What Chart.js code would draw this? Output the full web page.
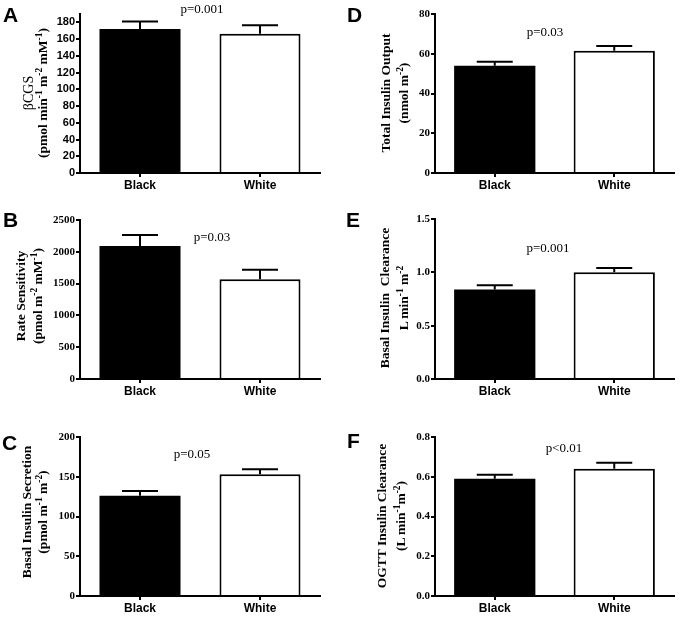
<!DOCTYPE html>
<html>
<head>
<meta charset="utf-8">
<script src="https://cdn.jsdelivr.net/npm/chart.js@4.4.0/dist/chart.umd.min.js"></script>
<style>
  body { margin: 0; background: #fff; }
  #wrap { position: relative; width: 682px; height: 618px; overflow: hidden; }
  .panel { position: absolute; }
  .letter { position: absolute; font: bold 21px 'Liberation Sans', Arial, sans-serif; line-height: 21px; }
  .pval { position: absolute; font: 13px 'Liberation Serif', 'Times New Roman', serif; transform: translate(-50%, -50%); white-space: nowrap; }
  .ytitle { position: absolute; transform: translate(-50%, -50%) rotate(-90deg); white-space: nowrap; text-align: center;
            font: bold 13.5px 'Liberation Serif', 'Times New Roman', serif; line-height: 17px; }
  .ytitle .plain { font-weight: normal; font-size: 14px; }
  .ytitle sup { font-size: 70%; line-height: 0; vertical-align: 5px; }
</style>
</head>
<body>
<div id="wrap">
  <canvas id="chartA" class="panel" width="341" height="200" style="left:0;top:0"></canvas>
  <canvas id="chartB" class="panel" width="341" height="210" style="left:0;top:200px"></canvas>
  <canvas id="chartC" class="panel" width="341" height="208" style="left:0;top:410px"></canvas>
  <canvas id="chartD" class="panel" width="341" height="200" style="left:341px;top:0"></canvas>
  <canvas id="chartE" class="panel" width="341" height="210" style="left:341px;top:200px"></canvas>
  <canvas id="chartF" class="panel" width="341" height="208" style="left:341px;top:410px"></canvas>

  <div class="letter" style="left:3px;top:4px">A</div>
  <div class="letter" style="left:3px;top:209px">B</div>
  <div class="letter" style="left:2px;top:432px">C</div>
  <div class="letter" style="left:347px;top:4px">D</div>
  <div class="letter" style="left:346px;top:209px">E</div>
  <div class="letter" style="left:347px;top:430px">F</div>

  <div class="pval" style="left:202px;top:9px">p=0.001</div>
  <div class="pval" style="left:212px;top:237px">p=0.03</div>
  <div class="pval" style="left:192px;top:454px">p=0.05</div>
  <div class="pval" style="left:545px;top:32px">p=0.03</div>
  <div class="pval" style="left:548px;top:248px">p=0.001</div>
  <div class="pval" style="left:564px;top:448px">p&lt;0.01</div>

  <div class="ytitle" style="left:36px;top:93px;line-height:14px"><span class="plain">&beta;CGS</span><br>(pmol min<sup>-1</sup> m<sup>-2</sup> mM<sup>-1</sup>)</div>
  <div class="ytitle" style="left:29px;top:296px">Rate Sensitivity<br>(pmol m<sup>-2</sup> mM<sup>-1</sup>)</div>
  <div class="ytitle" style="left:35px;top:512px;line-height:16px">Basal Insulin Secretion<br>(pmol m<sup>-1</sup> m<sup>-2</sup>)</div>
  <div class="ytitle" style="left:395px;top:93px;line-height:18px">Total Insulin Output<br>(nmol m<sup>-2</sup>)</div>
  <div class="ytitle" style="left:394px;top:298px;line-height:19px">Basal Insulin&nbsp; Clearance<br>L min<sup>-1</sup> m<sup>-2</sup></div>
  <div class="ytitle" style="left:391px;top:516px;line-height:19px">OGTT Insulin Clearance<br>(L min<sup>-1</sup>m<sup>-2</sup>)</div>
</div>

<script>
// Groups and mean +/- SEM
const groups = ['Black', 'White'];

const betaCgs = [172, 166.5];
const betaCgsSem = [9, 10];
const betaCgsTicks = [0, 20, 40, 60, 80, 100, 120, 140, 160, 180];

const rateSensitivity = [2090, 1570];
const rateSensitivitySem = [175, 147];
const rateSensitivityTicks = [0, 500, 1000, 1500, 2000, 2500];

const basalSecretion = [126, 153];
const basalSecretionSem = [6, 6.5];
const basalSecretionTicks = [0, 50, 100, 150, 200];

const totalOutput = [54, 61.5];
const totalOutputSem = [2, 2.4];
const totalOutputTicks = [0, 20, 40, 60, 80];

const basalClearance = [0.84, 1.0];
const basalClearanceSem = [0.04, 0.04];
const basalClearanceTicks = [0, 0.5, 1.0, 1.5];

const ogttClearance = [0.59, 0.64];
const ogttClearanceSem = [0.02, 0.03];
const ogttClearanceTicks = [0, 0.2, 0.4, 0.6, 0.8];

// Draw the upper half of the error bars (stem + cap)
const errorBarPlugin = {
  id: 'errorBars',
  afterDatasetsDraw(chart) {
    const ctx = chart.ctx;
    const yScale = chart.scales.y;
    chart.data.datasets.forEach((ds, i) => {
      const meta = chart.getDatasetMeta(i);
      meta.data.forEach((bar, j) => {
        const top = yScale.getPixelForValue(ds.data[j] + ds.errors[j]);
        ctx.save();
        ctx.strokeStyle = '#000';
        ctx.lineWidth = 2;
        ctx.beginPath();
        ctx.moveTo(bar.x, bar.y);
        ctx.lineTo(bar.x, top);
        ctx.moveTo(bar.x - 18, top);
        ctx.lineTo(bar.x + 18, top);
        ctx.stroke();
        ctx.restore();
      });
    });
  }
};

function makePanel(id, values, errors, ticks, opts) {
  const canvas = document.getElementById(id);
  const w = canvas.width, h = canvas.height;
  new Chart(canvas.getContext('2d'), {
    type: 'bar',
    data: {
      labels: groups,
      datasets: [{
        data: values,
        errors: errors,
        backgroundColor: ['#000', '#fff'],
        borderColor: '#000',
        borderWidth: [0, 2],
        barPercentage: opts.barPct,
        categoryPercentage: 1
      }]
    },
    options: {
      responsive: false,
      animation: false,
      layout: {
        autoPadding: false,
        padding: {left: 0, top: opts.top, right: w - opts.right, bottom: 0}
      },
      plugins: {legend: {display: false}, tooltip: {enabled: false}},
      scales: {
        x: {
          afterFit: (s) => { s.height = h - opts.bottom; },
          grid: {offset: false, drawOnChartArea: false, drawTicks: true, tickLength: 4, color: '#000', lineWidth: 2},
          border: {color: '#000', width: 2},
          ticks: {color: '#000', padding: 1, font: {family: "'Liberation Sans', Arial, sans-serif", weight: 'bold', size: 12}}
        },
        y: {
          min: 0,
          max: opts.max,
          afterFit: (s) => { s.width = opts.left; },
          afterBuildTicks: (s) => { s.ticks = ticks.map(v => ({value: v})); },
          grid: {drawOnChartArea: false, drawTicks: true, tickLength: 4, color: '#000', lineWidth: 2},
          border: {color: '#000', width: 2},
          ticks: {
            color: '#000',
            padding: 1,
            autoSkip: false,
            font: {family: opts.tickFont, weight: 'bold', size: 11},
            callback: (v) => opts.decimals ? Number(v).toFixed(opts.decimals) : String(v)
          }
        }
      }
    },
    plugins: [errorBarPlugin]
  });
}

const sans = "'Liberation Sans', Arial, sans-serif";
const serif = "'Liberation Serif', 'Times New Roman', serif";

makePanel('chartA', betaCgs, betaCgsSem, betaCgsTicks,
  {left: 80, right: 320, top: 14, bottom: 173, max: 190, barPct: 0.675, tickFont: sans});
makePanel('chartB', rateSensitivity, rateSensitivitySem, rateSensitivityTicks,
  {left: 80, right: 320, top: 20, bottom: 179, max: 2500, barPct: 0.675, tickFont: serif});
makePanel('chartC', basalSecretion, basalSecretionSem, basalSecretionTicks,
  {left: 80, right: 320, top: 27, bottom: 186, max: 200, barPct: 0.675, tickFont: serif});
makePanel('chartD', totalOutput, totalOutputSem, totalOutputTicks,
  {left: 94, right: 333, top: 14, bottom: 173, max: 80, barPct: 0.68, tickFont: serif});
makePanel('chartE', basalClearance, basalClearanceSem, basalClearanceTicks,
  {left: 94, right: 333, top: 19, bottom: 179, max: 1.5, barPct: 0.68, tickFont: serif, decimals: 1});
makePanel('chartF', ogttClearance, ogttClearanceSem, ogttClearanceTicks,
  {left: 94, right: 333, top: 27, bottom: 186, max: 0.8, barPct: 0.68, tickFont: serif, decimals: 1});
</script>
</body>
</html>
